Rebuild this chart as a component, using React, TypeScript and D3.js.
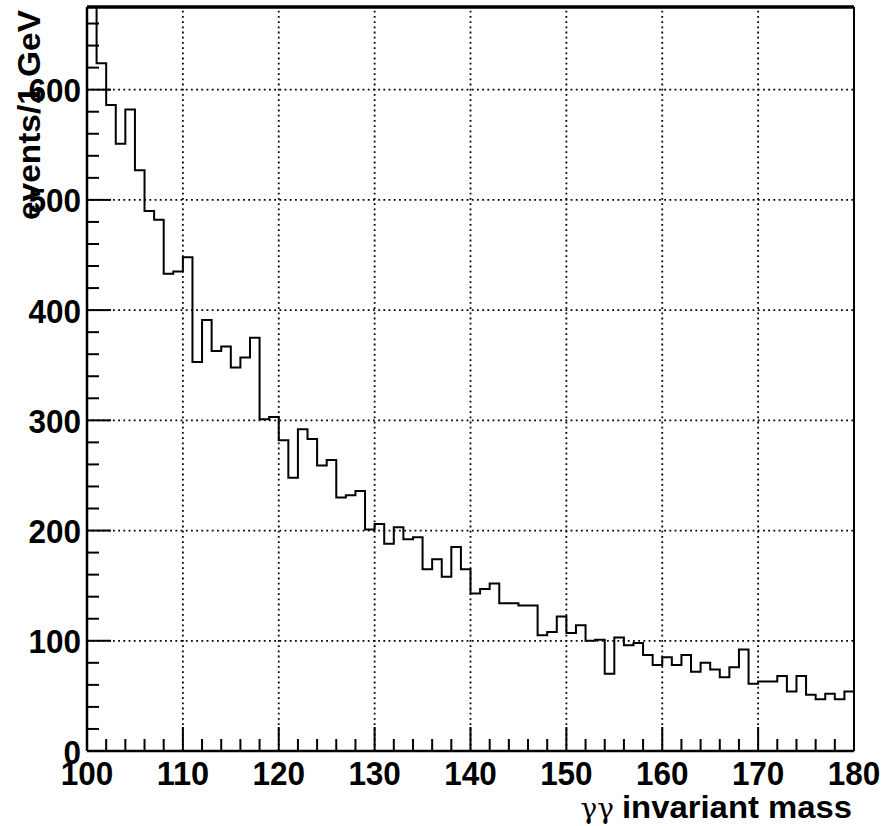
import React from "react";
import * as d3 from "d3";

const binStart = 100;
const binWidth = 1;
const counts: number[] = [
  675, 624, 586, 551, 582, 527, 490, 482, 433, 435,
  448, 353, 391, 363, 367, 348, 357, 375, 301, 303,
  282, 248, 292, 283, 259, 264, 230, 232, 236, 201,
  206, 188, 203, 192, 194, 165, 174, 158, 185, 165,
  143, 147, 152, 134, 134, 132, 132, 105, 108, 122,
  107, 114, 100, 101, 70, 103, 96, 98, 87, 78,
  85, 78, 87, 72, 80, 74, 67, 76, 92, 61,
  63, 63, 68, 54, 68, 51, 47, 52, 47, 54,
];
const xMajorTicks = [100, 110, 120, 130, 140, 150, 160, 170, 180];
const yMajorTicks = [0, 100, 200, 300, 400, 500, 600];
const xTitle = "invariant mass";
const xTitleSymbol = "γγ";
const yTitle = "events/1 GeV";

const W = 893;
const H = 826;
const L = 87, R = 854, T = 7, B = 751;

export default function App() {
  const x = d3.scaleLinear().domain([100, 180]).range([L, R]);
  const y = d3.scaleLinear().domain([0, 675]).range([B, T]);

  const pts: [number, number][] = counts.map((c, i) => [binStart + i * binWidth, c]);
  pts.push([binStart + counts.length * binWidth, counts[counts.length - 1]]);
  const line = d3
    .line<[number, number]>()
    .x((d) => x(d[0]))
    .y((d) => y(d[1]))
    .curve(d3.curveStepAfter);

  const xMinor = d3.range(100, 180.001, 2).filter((v) => v % 10 !== 0);
  const yMinor = d3.range(0, 675, 20).filter((v) => v % 100 !== 0);

  const font = "'Liberation Sans', Arial, Helvetica, sans-serif";
  const labelLen = (v: number) => String(v).length * 17.5;

  return (
    <svg
      width={W}
      height={H}
      style={{ position: "absolute", left: 0, top: 0, background: "#fff" }}
      fontFamily={font}
    >
      <rect x={0} y={0} width={W} height={H} fill="#fff" />
      <defs>
        <clipPath id="plotclip">
          <rect x={L} y={T} width={R - L} height={B - T} />
        </clipPath>
      </defs>
      {/* grid */}
      <g stroke="#000" strokeWidth={1.8} strokeDasharray="1.8 3.4">
        {xMajorTicks.filter((v) => v > 100 && v < 180).map((v) => (
          <line key={"gx" + v} x1={x(v)} x2={x(v)} y1={B} y2={T} />
        ))}
        {yMajorTicks.filter((v) => v > 0).map((v) => (
          <line key={"gy" + v} x1={L} x2={R} y1={y(v)} y2={y(v)} />
        ))}
      </g>
      {/* histogram */}
      <path
        d={line(pts) || ""}
        fill="none"
        stroke="#000"
        strokeWidth={2}
        clipPath="url(#plotclip)"
      />
      {/* ticks */}
      <g stroke="#000" strokeWidth={2}>
        {xMajorTicks.map((v) => (
          <line key={"tx" + v} x1={x(v)} x2={x(v)} y1={B} y2={B - 24} />
        ))}
        {xMinor.map((v) => (
          <line key={"mx" + v} x1={x(v)} x2={x(v)} y1={B} y2={B - 12} />
        ))}
        {yMajorTicks.map((v) => (
          <line key={"ty" + v} x1={L} x2={L + 24} y1={y(v)} y2={y(v)} />
        ))}
        {yMinor.map((v) => (
          <line key={"my" + v} x1={L} x2={L + 12} y1={y(v)} y2={y(v)} />
        ))}
      </g>
      {/* frame */}
      <line x1={L} x2={R} y1={B} y2={B} stroke="#000" strokeWidth={2.5} />
      <line x1={L} x2={L} y1={T} y2={B} stroke="#000" strokeWidth={2.5} />
      <line x1={R} x2={R} y1={T} y2={B} stroke="#000" strokeWidth={2} />
      <line x1={L} x2={R} y1={T} y2={T} stroke="#000" strokeWidth={3.5} />
      {/* tick labels */}
      <g fontSize={34} fontWeight="bold" fill="#000">
        {xMajorTicks.map((v) => (
          <text
            key={"lx" + v}
            x={x(v)}
            y={785}
            textAnchor="middle"
            textLength={labelLen(v)}
            lengthAdjust="spacingAndGlyphs"
          >
            {v}
          </text>
        ))}
        {yMajorTicks.map((v) => (
          <text
            key={"ly" + v}
            x={81}
            y={y(v) + 12.5}
            textAnchor="end"
            textLength={labelLen(v)}
            lengthAdjust="spacingAndGlyphs"
          >
            {v}
          </text>
        ))}
      </g>
      {/* titles */}
      <text
        x={614}
        y={818}
        fontSize={28}
        textAnchor="end"
        fontFamily="'DejaVu Serif', 'Liberation Serif', serif"
      >
        {xTitleSymbol}
      </text>
      <text
        x={622}
        y={818}
        fontSize={31}
        fontWeight="bold"
        textLength={230}
        lengthAdjust="spacingAndGlyphs"
      >
        {xTitle}
      </text>
      <text
        transform="translate(40,220) rotate(-90)"
        fontSize={31}
        fontWeight="bold"
        textLength={210}
        lengthAdjust="spacingAndGlyphs"
      >
        {yTitle}
      </text>
    </svg>
  );
}
